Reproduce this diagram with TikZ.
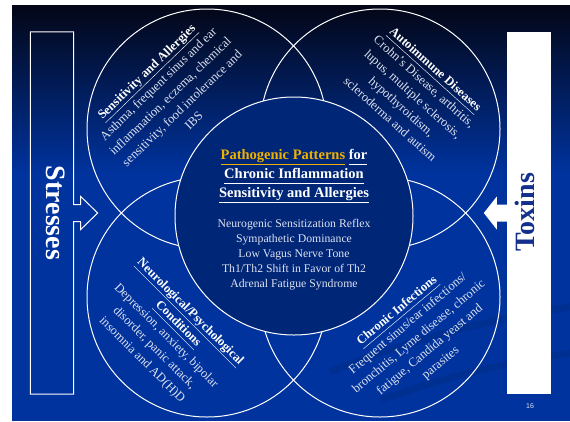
\documentclass[tikz,border=0pt]{standalone}
\usepackage{fontspec}
\setmainfont{Liberation Serif}
\newfontfamily\numfont{Liberation Sans}
\usetikzlibrary{calc}

\definecolor{slideblue}{RGB}{0,51,158}
\definecolor{slidetop}{RGB}{3,6,22}
\definecolor{slidemid}{RGB}{4,24,84}
\definecolor{innerblue}{RGB}{0,38,120}
\definecolor{patterngold}{RGB}{240,178,0}
\definecolor{bodygray}{RGB}{222,226,240}
\definecolor{toxinblue}{RGB}{18,48,140}

\newcommand{\uln}[1]{\underline{#1\vphantom{gy}}}
\newcommand{\ringtitle}[1]{{\color{white}\bfseries\uln{#1}}}

\begin{document}
\begin{tikzpicture}[x=1pt,y=-1pt,
    ring/.style={circle,draw=white,line width=1pt,minimum size=240pt,inner sep=0pt},
    ringtext/.style={text=bodygray,align=center,font=\fontsize{12.6}{17}\selectfont},
    sidebox/.style={minimum width=43pt,minimum height=362pt,inner sep=0pt},
    swoosh/.style={black,opacity=0.07,line width=7pt}]
  \useasboundingbox (0,0) rectangle (570,421);

  %slide background
  \fill[white] (0,0) rectangle (570,421);
  \fill[slideblue] (12,5) rectangle (580,421);
  \shade[top color=slidetop,middle color=slidemid,bottom color=slideblue] (12,5) rectangle (580,173);
  \draw[swoosh] (330,372) .. controls (420,335) and (500,318) .. (580,305);
  \draw[swoosh] (380,400) .. controls (460,372) and (520,360) .. (580,352);

  %Stresses
  \node[sidebox] (stress) at (52,213) {};
  \draw[white,line width=1pt] (stress.north west) -- (stress.north east)
    -- ($(stress.east)+(0,-8.5)$) -- ++(7,0) -- ++(0,-8) -- ($(stress.east)+(24,0)$)
    -- ($(stress.east)+(7,16.5)$) -- ++(0,-8) -- ($(stress.east)+(0,8.5)$)
    -- (stress.south east) -- (stress.south west) -- cycle;
  \node[rotate=-90,text=white,font=\bfseries\fontsize{28}{30}\selectfont] (stresslabel) at (56,213) {Stresses};

  %Toxins
  \node[sidebox,fill=white,minimum width=44pt] (toxin) at (529,213) {};
  \fill[white] ($(toxin.west)+(1,-8.5)$) -- ++(-11,0) -- ++(0,-8) -- ($(toxin.west)+(-23,0)$)
    -- ($(toxin.west)+(-10,16.5)$) -- ++(0,-8) -- ($(toxin.west)+(1,8.5)$) -- cycle;
  \node[rotate=90,text=toxinblue,font=\bfseries\fontsize{28}{30}\selectfont] (toxinlabel) at (525,212) {Toxins};

  %four rings
  \node[ring] (sens) at (207,129) {};
  \node[ring] (auto) at (380,129) {};
  \node[ring] (neuro) at (207,297) {};
  \node[ring] (infect) at (380,297) {};

  %center ring
  \node[ring,fill=innerblue,minimum size=238pt] (core) at (294,216) {};
  \node[align=center,text=white,font=\bfseries\fontsize{14.5}{19}\selectfont] (coretitle) at (294,176)
    {\textcolor{patterngold}{\uln{Pathogenic Patterns}} \uln{for}\\\uln{Chronic Inflammation}\\\uln{Sensitivity and Allergies}};
  \node[align=center,text=bodygray,font=\fontsize{11.75}{15}\selectfont] (corelist) at (294,255)
    {Neurogenic Sensitization Reflex\\Sympathetic Dominance\\Low Vagus Nerve Tone\\Th1/Th2 Shift in Favor of Th2\\Adrenal Fatigue Syndrome};

  %ring texts
  \node[ringtext,rotate=44] (senstext) at (170,96)
    {\ringtitle{Sensitivity and Allergies}\\Asthma, frequent sinus and ear\\inflammation, eczema, chemical\\sensitivity, food intolerance and\\IBS};
  \node[ringtext,rotate=-42] (autotext) at (413,94)
    {\ringtitle{Autoimmune Diseases}\\Crohn’s Disease, arthritis,\\lupus, multiple sclerosis,\\hypothyroidism,\\scleroderma and autism};
  \node[ringtext,rotate=-45] (neurotext) at (166,336)
    {\ringtitle{Neurological/Psychological}\\\ringtitle{Conditions}\\Depression, anxiety, bipolar\\disorder, panic attack,\\insomnia and AD(H)D};
  \node[ringtext,rotate=40] (infecttext) at (419,337)
    {\ringtitle{Chronic Infections}\\Frequent sinus/ear infections/\\bronchitis, Lyme disease, chronic\\fatigue, Candida yeast and\\parasites};

  %page number
  \node[text=bodygray,font=\numfont\fontsize{7}{8}\selectfont] (pagenum) at (530,406) {16};
\end{tikzpicture}
\end{document}
